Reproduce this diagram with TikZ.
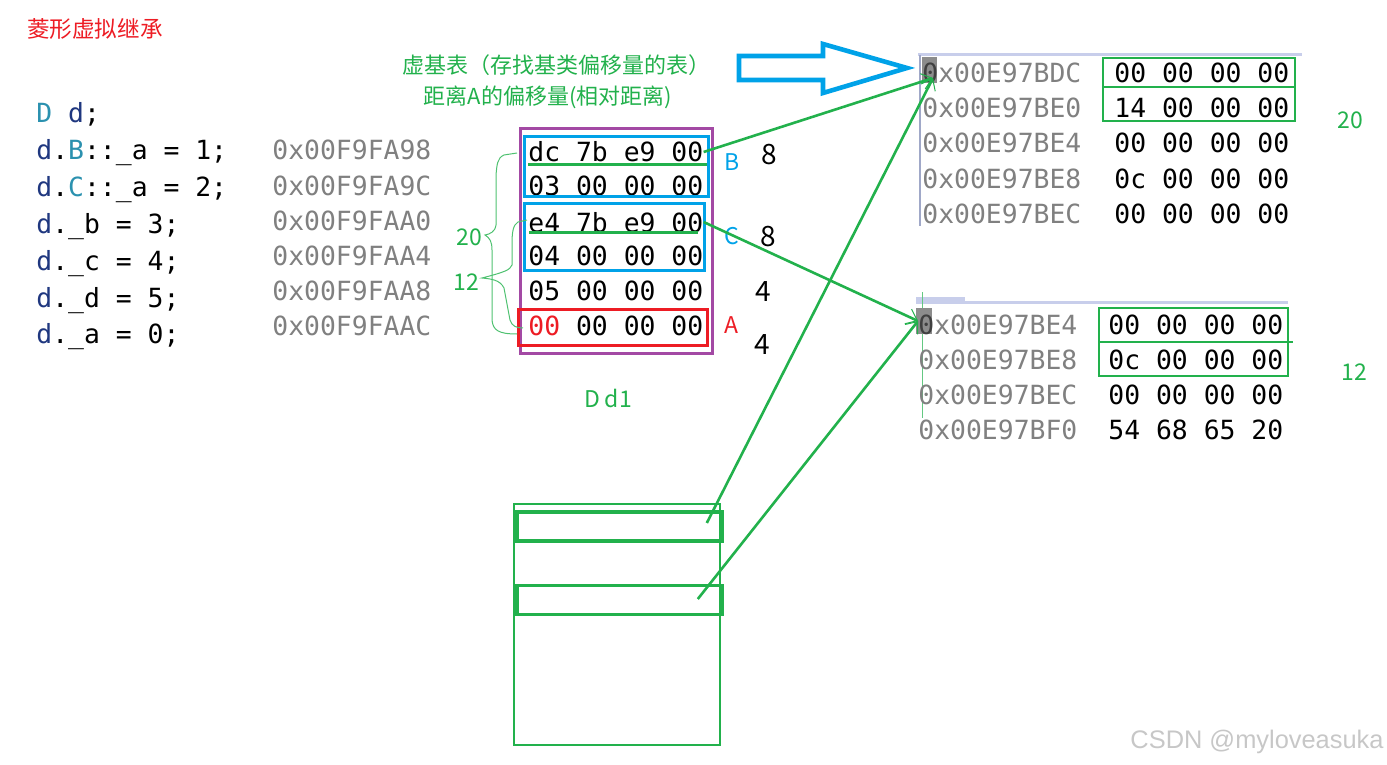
\documentclass[tikz,border=0pt]{standalone}
\usepackage{fontspec}
\usepackage{xcolor}
\usetikzlibrary{arrows.meta}
\newfontfamily\codefont{DejaVu Sans Mono}
\newfontfamily\cjk{Noto Sans CJK SC}
\newfontfamily\wmfont{Liberation Sans}
\definecolor{pgreen}{RGB}{34,177,76}
\definecolor{pblue}{RGB}{0,162,232}
\definecolor{pred}{RGB}{237,28,36}
\definecolor{ppurple}{RGB}{163,73,164}
\definecolor{vsvar}{RGB}{31,55,127}
\definecolor{vstype}{RGB}{43,145,175}
\definecolor{addrgray}{RGB}{128,128,128}
\definecolor{winline}{RGB}{200,206,235}
\definecolor{winside}{RGB}{160,168,200}
\definecolor{hlgray}{RGB}{140,140,140}
\newcommand\hlzero{\textcolor{black!75}{0}}
\tikzset{
  code/.style={anchor=west, inner sep=0pt, text height=10pt, text depth=0pt,
    font=\codefont\fontsize{13.2}{16}\selectfont},
  addr/.style={code, text=addrgray},
  note/.style={inner sep=0pt, font=\cjk\fontsize{11}{13}\selectfont, text=pgreen},
  size/.style={inner sep=0pt, font=\cjk\fontsize{14}{16}\selectfont},
  tag/.style={inner sep=0pt, font=\cjk\fontsize{11.5}{14}\selectfont},
  link/.style={draw=pgreen, line width=1.3pt,
    -{Straight Barb[length=5pt,width=8pt,line width=0.5pt]}},
  brace/.style={draw=pgreen!80, line width=0.5pt},
  slot/.style={draw=pgreen, line width=1.8pt, inner sep=0pt,
    minimum width=102.5pt, minimum height=14.5pt},
}
\begin{document}
\begin{tikzpicture}[x=0.5pt,y=-0.5pt]
    \useasboundingbox (0,0) rectangle (1387,765);

    % Title
    \node[inner sep=0pt, font=\cjk\fontsize{11.3}{13}\selectfont, text=pred] (title) at (95,29) {菱形虚拟继承};

    % Source code
    \node[code] (c0) at (36,113) {\textcolor{vstype}{D} \textcolor{vsvar}{d};};
    \node[code] (c1) at (36,150) {\textcolor{vsvar}{d}.\textcolor{vstype}{B}::\_a = 1;};
    \node[code] (c2) at (36,187) {\textcolor{vsvar}{d}.\textcolor{vstype}{C}::\_a = 2;};
    \node[code] (c3) at (36,223) {\textcolor{vsvar}{d}.\_b = 3;};
    \node[code] (c4) at (36,260) {\textcolor{vsvar}{d}.\_c = 4;};
    \node[code] (c5) at (36,297) {\textcolor{vsvar}{d}.\_d = 5;};
    \node[code] (c6) at (36,333) {\textcolor{vsvar}{d}.\_a = 0;};

    % Addresses of d1
    \foreach \y/\t [count=\i] in {150/0x00F9FA98, 185/0x00F9FA9C, 220/0x00F9FAA0,
                                  255/0x00F9FAA4, 290/0x00F9FAA8, 325/0x00F9FAAC} {
        \node[addr] (a\i) at (272,\y) {\t};
    }

    % Notes
    \node[note] (vbt) at (556,65) {虚基表（存找基类偏移量的表）};
    \node[note] (dist) at (548,97) {距离A的偏移量(相对距离)};

    % Memory of d1
    \node[code] (r1) at (528,152) {dc 7b e9 00};
    \node[code] (r2) at (528,185) {03 00 00 00};
    \node[code] (r3) at (528,222) {e4 7b e9 00};
    \node[code] (r4) at (528,255) {04 00 00 00};
    \node[code] (r5) at (528,290) {05 00 00 00};
    \node[code] (r6) at (528,325) {\textcolor{pred}{00} 00 00 00};

    \draw[ppurple, line width=1.5pt] (520,129) rectangle (712,353);
    \draw[pblue, line width=1.5pt] (524,137) rectangle (708,196);
    \draw[pblue, line width=1.5pt] (524,203) rectangle (704,270);
    \draw[pred, line width=1.5pt] (518,309) rectangle (707,345);
    \draw[pgreen, line width=1.5pt] (528,165) -- (707,165);
    \draw[pgreen, line width=1.5pt] (529,232) -- (698,232);

    \node[tag, text=pblue] (lb) at (732,162) {B};
    \node[tag, text=pblue] (lc) at (732,236) {C};
    \node[tag, text=pred] (la) at (731,325) {A};
    \node[size] (s1) at (769,155) {8};
    \node[size] (s2) at (768,237) {8};
    \node[size] (s3) at (763,292) {4};
    \node[size] (s4) at (762,345) {4};
    \node[tag, text=pgreen] (dd1) at (608,398) {D d1};

    % Braces
    \draw[brace] (517,153) -- (504,155) .. controls (497,158) and (497,165) .. (496,175)
        -- (496,225) .. controls (495,232) and (490,234) .. (485,235)
        .. controls (490,238) and (492,242) .. (492,250) -- (492,320)
        .. controls (493,330) and (498,334) .. (517,334);
    \draw[brace] (527,220) -- (518,222) .. controls (513,225) and (512,232) .. (512,245)
        -- (512,265) .. controls (510,270) and (505,272) .. (482,278)
        .. controls (492,279) and (500,280) .. (504,288) -- (510,320)
        .. controls (512,326) and (516,328) .. (523,328);
    \node[tag, text=pgreen] (d20) at (469,237) {20};
    \node[tag, text=pgreen] (d12) at (466,282) {12};

    % Big arrow
    \draw[pblue, line width=2.3pt, line join=miter] (739,56) -- (823,56) -- (823,44)
        -- (907,68) -- (823,93) -- (823,80) -- (739,80) -- cycle;

    % Virtual base table of B
    \draw[winline, line width=1.5pt] (918,55) -- (1302,55);
    \draw[winside, line width=0.8pt] (920,55) -- (920,226);
    \fill[hlgray] (922,57) rectangle (937,83);
    \foreach \y/\t/\v [count=\i] in {73/\hlzero x00E97BDC/00 00 00 00, 108/0x00E97BE0/14 00 00 00,
                                     143/0x00E97BE4/00 00 00 00, 178/0x00E97BE8/0c 00 00 00,
                                     213/0x00E97BEC/00 00 00 00} {
        \node[addr] (m\i) at (922,\y) {\t};
        \node[code] (v\i) at (1114,\y) {\v};
    }
    \draw[pgreen, line width=1.3pt] (1103,58) rectangle (1295,87);
    \draw[pgreen, line width=1.3pt] (1103,87) rectangle (1295,121);
    \node[tag, text=pgreen] (t20) at (1350,120) {20};

    % Virtual base table of C
    \fill[winline] (916,297) rectangle (965,303);
    \draw[winline, line width=1.5pt] (916,302) -- (1288,302);
    \draw[pgreen!70, line width=0.5pt] (922,292) -- (922,418);
    \fill[hlgray] (916,308) rectangle (932,334);
    \foreach \y/\t/\v [count=\i] in {324/\hlzero x00E97BE4/00 00 00 00, 359/0x00E97BE8/0c 00 00 00,
                                     394/0x00E97BEC/00 00 00 00, 429/0x00E97BF0/54 68 65 20} {
        \node[addr] (n\i) at (918,\y) {\t};
        \node[code] (w\i) at (1108,\y) {\v};
    }
    \draw[pgreen, line width=1.3pt] (1099,308) rectangle (1288,342);
    \draw[pgreen, line width=1.3pt] (1099,342) rectangle (1288,376);
    \draw[pgreen, line width=1.3pt] (1197,342) -- (1293,342);
    \node[tag, text=pgreen] (t12) at (1354,372) {12};

    % Object drawn as a stack of slots
    \draw[pgreen, line width=1.3pt] (514,504) rectangle (720,745);
    \node[slot] (vb1) at (619.5,526.5) {};
    \node[slot] (vb2) at (619.5,600) {};

    % Links to the tables
    \coordinate (e1) at (933,78);
    \coordinate (e2) at (918,321);
    \draw[link] (r1.east) -- (e1);
    \draw[link] (r3.east) -- (e2);
    \draw[link] ([xshift=-8.5pt,yshift=1.75pt]vb1.east) -- (e1);
    \draw[link] ([xshift=-13pt,yshift=0.5pt]vb2.east) -- (e2);

    % Watermark
    \node[inner sep=0pt, font=\wmfont\fontsize{12.7}{14}\selectfont, text=black!22] (wm) at (1257,742) {CSDN @myloveasuka};
\end{tikzpicture}
\end{document}
